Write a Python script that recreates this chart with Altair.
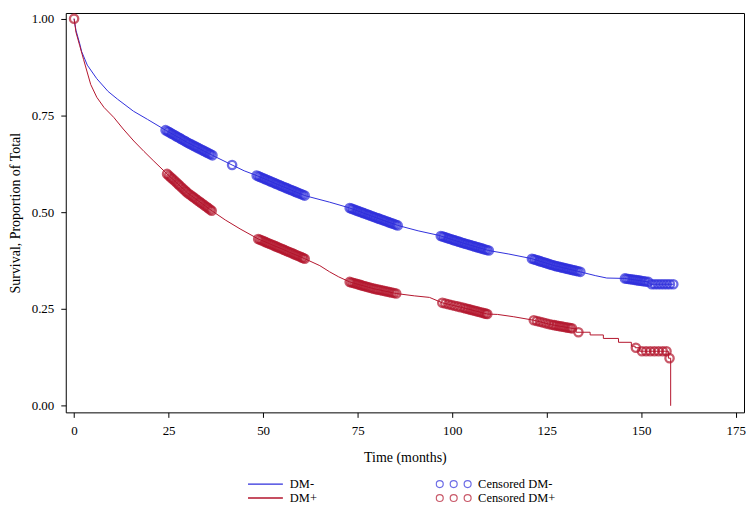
import altair as alt
import numpy as np
import pandas as pd

# ---- Kaplan-Meier curves ----
dm_neg_t = [0, 0.5, 1.5, 2.0, 3.5, 6.0, 9.0, 11.5, 15.7, 19.4, 24.2, 30.0, 36.6, 41.8, 45.0,
            48.5, 55.0, 61.0, 67.6, 72.9, 79.0, 85.6, 91.0, 96.6, 103.0, 109.7, 115.0, 121.1,
            127.0, 133.9, 138.0, 140.9, 145.7, 151.9, 152.5, 158.5]
dm_neg_s = [1.0, 0.97, 0.935, 0.915, 0.88, 0.845, 0.812, 0.792, 0.761, 0.740, 0.712, 0.680, 0.647,
            0.622, 0.607, 0.594, 0.567, 0.543, 0.526, 0.511, 0.489, 0.466, 0.452, 0.440, 0.420,
            0.401, 0.392, 0.380, 0.362, 0.346, 0.336, 0.330, 0.329, 0.320, 0.314, 0.314]

dm_pos_t = [0, 0.5, 1.5, 2.5, 4.4, 6.0, 7.9, 10.5, 13.0, 15.8, 18.5, 21.1, 24.6, 30.0, 36.4,
            40.0, 43.9, 48.7, 55.0, 61.0, 65.0, 67.6, 70.0, 72.9, 79.0, 85.2, 90.0, 94.0, 97.4,
            103.0, 109.3, 112.0, 116.3, 121.6, 126.0, 131.7, 132.8, 132.8, 136.5, 136.5, 140.0,
            140.0, 144.0, 144.0, 147.4, 147.4, 148.4, 148.4, 149.6, 149.6, 157.2, 157.2, 157.8,
            157.8]
dm_pos_s = [1.0, 0.965, 0.93, 0.895, 0.83, 0.797, 0.771, 0.745, 0.715, 0.684, 0.657, 0.632, 0.599,
            0.550, 0.504, 0.480, 0.457, 0.431, 0.405, 0.380, 0.362, 0.346, 0.333, 0.320, 0.303,
            0.290, 0.284, 0.280, 0.266, 0.253, 0.237, 0.236, 0.230, 0.221, 0.210, 0.200, 0.200,
            0.190, 0.190, 0.183, 0.183, 0.174, 0.174, 0.164, 0.164, 0.154, 0.154, 0.150, 0.150,
            0.141, 0.141, 0.123, 0.123, 0.0]

# ---- censoring times ----
cens_neg_t = [
    24.2, 24.7, 25.1, 25.6, 26.0, 26.5, 27.0, 27.4, 27.9, 28.3, 28.8, 29.3, 29.7, 30.2, 30.6,
    31.1, 31.6, 32.0, 32.5, 32.9, 33.4, 33.9, 34.3, 34.8, 35.2, 35.7, 36.1, 36.6,
    41.8,
    48.3, 48.8, 49.2, 49.7, 50.2, 50.6, 51.1, 51.6, 52.0, 52.5, 53.0, 53.4, 53.9, 54.4, 54.8,
    55.3, 55.8, 56.2, 56.7, 57.2, 57.6, 58.1, 58.6, 59.0, 59.5, 60.0, 60.5, 61.0,
    72.9, 73.4, 73.8, 74.3, 74.8, 75.2, 75.7, 76.2, 76.6, 77.1, 77.6, 78.0, 78.5, 79.0, 79.4,
    79.9, 80.4, 80.8, 81.3, 81.8, 82.2, 82.7, 83.2, 83.6, 84.1, 84.6, 85.1, 85.6,
    97.0, 97.5, 97.9, 98.4, 98.9, 99.3, 99.8, 100.3, 100.7, 101.2, 101.7, 102.1, 102.6, 103.1,
    103.5, 104.0, 104.5, 104.9, 105.4, 105.9, 106.3, 106.8, 107.3, 107.7, 108.2, 108.7, 109.2,
    109.7,
    121.1, 121.6, 122.0, 122.5, 123.0, 123.4, 123.9, 124.4, 124.8, 125.3, 125.8, 126.2, 126.7,
    127.2, 127.6, 128.1, 128.6, 129.0, 129.5, 130.0, 130.4, 130.9, 131.4, 131.8, 132.3, 132.8,
    133.3, 133.9,
    145.7, 146.2, 146.7, 147.2, 147.7, 148.2, 148.7, 149.2, 149.7, 150.2, 150.7, 151.2, 151.9,
    152.8, 153.6, 154.4, 155.2, 156.0, 156.8, 157.6, 158.5]

cens_pos_t = [
    0.0,
    24.6, 25.1, 25.6, 26.0, 26.5, 27.0, 27.5, 27.9, 28.4, 28.9, 29.4, 29.8, 30.3, 30.8, 31.3,
    31.7, 32.2, 32.7, 33.2, 33.6, 34.1, 34.6, 35.1, 35.5, 36.0, 36.4,
    48.7, 49.2, 49.7, 50.2, 50.7, 51.2, 51.7, 52.2, 52.7, 53.2, 53.7, 54.2, 54.7, 55.2, 55.7,
    56.2, 56.7, 57.2, 57.7, 58.2, 58.7, 59.2, 59.7, 60.2, 60.6, 61.0,
    72.9, 73.4, 73.9, 74.4, 74.9, 75.4, 75.9, 76.4, 76.9, 77.4, 78.0, 78.6, 79.2, 79.8, 80.4,
    81.0, 81.6, 82.2, 82.8, 83.4, 84.0, 84.6, 85.2,
    97.4, 98.2, 99.0, 99.8, 100.6, 101.4, 102.2, 103.0, 103.6, 104.2, 104.8, 105.4, 106.0,
    106.6, 107.2, 107.8, 108.4, 108.9, 109.3,
    121.6, 122.4, 123.2, 124.0, 124.8, 125.6, 126.4, 127.0, 127.6, 128.2, 128.8, 129.4, 130.0,
    130.6, 131.2, 131.7,
    133.4, 148.6,
    150.2, 151.3, 152.4, 153.5, 154.6, 155.7, 156.7, 157.5]

groups = ["DM-", "DM+"]
cens_groups = ["Censored DM-", "Censored DM+"]
colors = ["#2f2fdc", "#b3152c"]

FONT = "Liberation Serif"

lines_df = pd.concat([
    pd.DataFrame({"t": dm_neg_t, "s": dm_neg_s, "group": groups[0], "idx": range(len(dm_neg_t))}),
    pd.DataFrame({"t": dm_pos_t, "s": dm_pos_s, "group": groups[1], "idx": range(len(dm_pos_t))}),
])

# censored marks sit on their own curve
cens_df = pd.concat([
    pd.DataFrame({"t": cens_neg_t, "s": np.interp(cens_neg_t, dm_neg_t, dm_neg_s), "cg": cens_groups[0]}),
    pd.DataFrame({"t": cens_pos_t, "s": np.interp(cens_pos_t, dm_pos_t, dm_pos_s), "cg": cens_groups[1]}),
])

xscale = alt.Scale(domain=[-2.2, 177.2], nice=False, zero=False)
yscale = alt.Scale(domain=[-0.017, 1.0147], nice=False, zero=False)

xaxis = alt.Axis(values=[0, 25, 50, 75, 100, 125, 150, 175], title="Time (months)",
                 tickSize=5, labelPadding=7, titlePadding=13, format="d")
yaxis = alt.Axis(values=[0, 0.25, 0.5, 0.75, 1.0], format=".2f",
                 title="Survival, Proportion of Total", tickSize=5, labelPadding=7,
                 titlePadding=9)

three_circles = ("M -0.6 0 A 0.2 0.2 0 1 1 -1 0 A 0.2 0.2 0 1 1 -0.6 0 Z "
                 "M 0.2 0 A 0.2 0.2 0 1 1 -0.2 0 A 0.2 0.2 0 1 1 0.2 0 Z "
                 "M 1 0 A 0.2 0.2 0 1 1 0.6 0 A 0.2 0.2 0 1 1 1 0 Z")

lines = alt.Chart(lines_df).mark_line(strokeWidth=1).encode(
    x=alt.X("t:Q", scale=xscale, axis=xaxis),
    y=alt.Y("s:Q", scale=yscale, axis=yaxis),
    color=alt.Color("group:N", scale=alt.Scale(domain=groups, range=colors),
                    legend=alt.Legend(title=None, orient="none", legendX=182, legendY=467,
                                      symbolType="stroke", symbolSize=1225,
                                      symbolStrokeWidth=1.3, clipHeight=12, rowPadding=1,
                                      labelOffset=6, padding=0, labelFont=FONT,
                                      labelFontSize=12.5, labelColor="black")),
    order=alt.Order("idx:Q"),
)

points = alt.Chart(cens_df).mark_point(shape="circle", filled=False, size=70, strokeWidth=2.3).encode(
    x=alt.X("t:Q", scale=xscale),
    y=alt.Y("s:Q", scale=yscale),
    stroke=alt.Stroke("cg:N", scale=alt.Scale(domain=cens_groups, range=colors),
                      legend=alt.Legend(title=None, orient="none", legendX=371, legendY=467,
                                        symbolType=three_circles, symbolSize=1225,
                                        symbolStrokeWidth=1.2, symbolFillColor="transparent",
                                        clipHeight=12, rowPadding=1, labelOffset=6, padding=0,
                                        labelFont=FONT, labelFontSize=12.5, labelColor="black")),
)

chart = alt.layer(lines, points).properties(
    width=681, height=401,
    padding={"left": 0, "top": 0, "right": 0, "bottom": 0},
).configure_view(
    stroke="black", strokeWidth=1
).configure_axis(
    grid=False, domain=False, tickColor="black", labelColor="black", titleColor="black",
    labelFont=FONT, titleFont=FONT, labelFontSize=13, titleFontSize=14,
    titleFontWeight="normal",
)

chart.save("out.html", embed_options={"renderer": "svg", "actions": False})
